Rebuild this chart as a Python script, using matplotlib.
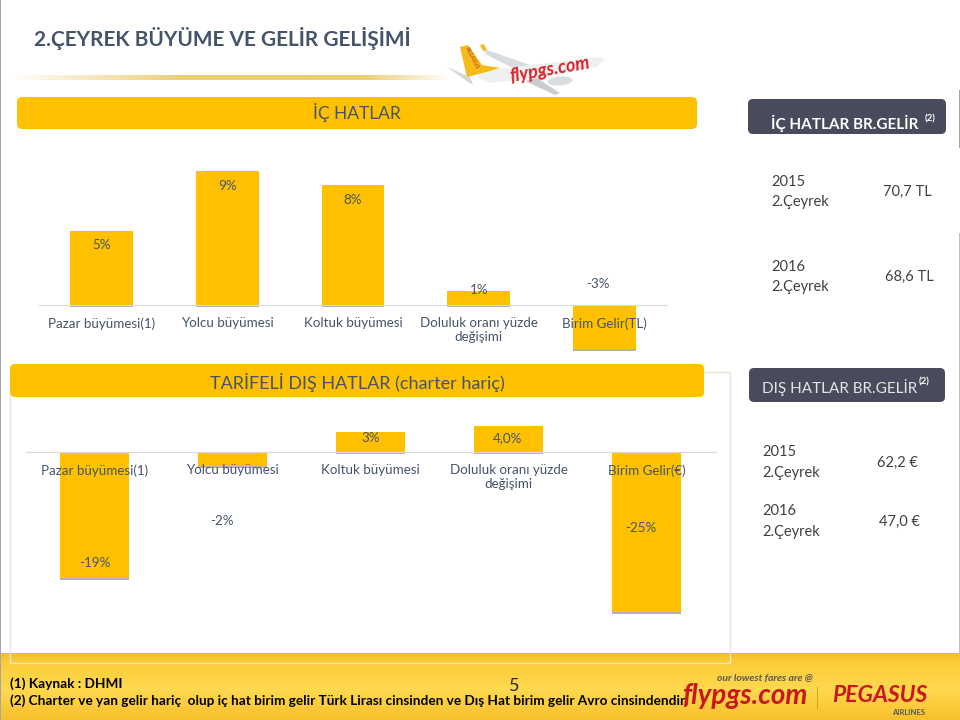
#!/usr/bin/env python3
# 2. ceyrek buyume ve gelir slide
import numpy as np
import matplotlib
matplotlib.use("Agg")
import matplotlib.pyplot as plt
import matplotlib.patheffects as pe
from matplotlib.patches import FancyBboxPatch, Polygon, Ellipse, Rectangle

plt.rcParams["font.family"] = ["Lato", "DejaVu Sans"]

W, H = 960, 720
YELLOW = "#FFC000"
TEXT = "#44546A"
DARK = "#404040"

###### DATA ######
dom_labels = ["Pazar büyümesi(1)", "Yolcu büyümesi", "Koltuk büyümesi",
              "Doluluk oranı yüzde\ndeğişimi", "Birim Gelir(TL)"]
dom_values = [5.0, 9.0, 8.1, 0.9, -3.0]
dom_text = ["5%", "9%", "8%", "1%", "-3%"]

intl_labels = ["Pazar büyümesi(1)", "Yolcu büyümesi", "Koltuk büyümesi",
               "Doluluk oranı yüzde\ndeğişimi", "Birim Gelir(€)"]
intl_values = [-19.4, -2.1, 3.1, 4.0, -24.6]
intl_text = ["-19%", "-2%", "3%", "4,0%", "-25%"]

dom_revenue = [("2015\n2.Çeyrek", "70,7 TL"), ("2016\n2.Çeyrek", "68,6 TL")]
intl_revenue = [("2015\n2.Çeyrek", "62,2 €"), ("2016\n2.Çeyrek", "47,0 €")]

# where the value labels sit, slide pixels
dom_text_pos = [(102, 245), (228, 186), (353, 200), (479, 290), (598, 284)]
intl_text_pos = [(95, 563), (222, 521), (371, 438), (508, 438), (641, 528)]

fig = plt.figure(figsize=(W / 100, H / 100), dpi=100, facecolor="white")

# whole slide in pixel coords for the decoration
bg = fig.add_axes([0, 0, 1, 1], zorder=0)
bg.set_xlim(0, W)
bg.set_ylim(H, 0)
bg.axis("off")


def px_axes(x0, x1, y0, y1, zorder=2):
    ax = fig.add_axes([x0 / W, 1 - y1 / H, (x1 - x0) / W, (y1 - y0) / H], zorder=zorder)
    ax.patch.set_alpha(0)
    return ax


def round_box(x0, y0, x1, y1, color, zorder=1):
    bg.add_patch(FancyBboxPatch((x0 + 5, y0 + 5), x1 - x0 - 10, y1 - y0 - 10,
                                boxstyle="round,pad=5,rounding_size=5",
                                fc=color, ec="none", zorder=zorder))


def bar_chart(labels, values, box, zero_y, px_per_unit, bar_width):
    x0, x1, y0, y1 = box
    ax = px_axes(x0, x1, y0, y1)
    shadow = [pe.withSimplePatchShadow(offset=(0, -1.5), shadow_rgbFace="#7F7F7F", alpha=0.6)]
    ax.bar(range(len(values)), values, width=bar_width, color=YELLOW,
           path_effects=shadow, zorder=1)
    ax.set_xlim(-0.5, len(values) - 0.5)
    ax.set_ylim((zero_y - y1) / px_per_unit, (zero_y - y0) / px_per_unit)
    ax.set_xticks(range(len(values)), labels)
    ax.set_yticks([])
    ax.set_axisbelow(False)
    ax.tick_params(axis="x", length=0, pad=9, labelsize=9.6, labelcolor=TEXT)
    # second line of the long label sits lower in the original
    for t in ax.get_xticklabels():
        t.set_linespacing(1.5)
    for s in ["top", "left", "right"]:
        ax.spines[s].set_visible(False)
    ax.spines["bottom"].set_position("zero")
    ax.spines["bottom"].set_color("#D9D9D9")
    ax.spines["bottom"].set_linewidth(0.8)
    return ax


# slide edges
bg.add_patch(Rectangle((0, 0), 1.2, H, fc="#A6A6A6", ec="none"))
bg.add_patch(Rectangle((958.5, 90), 1.5, 58, fc="#A6A6A6", ec="none"))
bg.add_patch(Rectangle((958.5, 233), 1.5, 420, fc="#BFBFBF", ec="none"))

# footer band
stops_y = np.array([0, 0.12, 0.55, 1.0])
stops_c = np.array([[0.96, 0.74, 0.13], [0.99, 0.80, 0.22], [1.0, 0.85, 0.31], [0.97, 0.75, 0.17]])
fy = np.linspace(0, 1, 64)
grad = np.stack([np.interp(fy, stops_y, stops_c[:, i]) for i in range(3)], axis=1)[:, None, :]
grad = np.repeat(grad, 8, axis=1)
bg.imshow(grad, extent=(0, W, 720, 653), aspect="auto", zorder=0.5)
bg.set_xlim(0, W)
bg.set_ylim(H, 0)

# rule under the title
fx = np.linspace(0, 1, 256)
rule = np.zeros((1, 256, 4))
rule[..., :3] = (0.93, 0.80, 0.45)
rule[..., 3] = np.clip(fx * 2.5, 0, 1) * np.clip((1 - fx) * 5, 0, 1)
bg.imshow(rule, extent=(8, 452, 80, 75), aspect="auto", zorder=0.6)
bg.set_xlim(0, W)
bg.set_ylim(H, 0)

# plane
bg.add_patch(Polygon([(447, 67), (470, 77), (473, 85), (468, 82)], fc="#D4D7D9", ec="none", zorder=1))
bg.add_patch(Polygon([(480, 45), (487, 50), (530, 65), (513, 68), (487, 55)],
                     fc="#D9DCDE", ec="none", zorder=1))
bg.add_patch(Polygon([(480, 45), (484, 44), (487, 50), (483, 51)], fc="#F5BB1A", ec="none", zorder=1.05))
bg.add_patch(Polygon([(477, 77), (490, 70), (600, 57), (605, 59), (597, 67), (540, 78), (490, 83)],
                     fc="#EEF0F1", ec="none", zorder=1))
bg.add_patch(Polygon([(537, 78), (560, 93), (555, 95), (525, 81)], fc="#C9CDD0", ec="none", zorder=1))
bg.add_patch(Ellipse((560, 81), 25, 9, angle=-5, fc="#DADDDF", ec="none", zorder=1.05))
bg.add_patch(Polygon([(460, 47), (468, 45), (482, 65), (500, 68), (483, 73), (467, 77)],
                     fc="#F5BB1A", ec="none", zorder=1.1))
bg.text(550, 70, "flypgs.com", color="#D8232A", fontsize=13, fontweight="bold", style="italic",
        rotation=10, ha="center", va="center", zorder=2)
bg.text(472, 58, "PEGASUS", color="#C8501E", fontsize=4, fontweight="bold", rotation=-62,
        ha="center", va="center", zorder=2)

# title and headers
bg.text(34, 39, "2.ÇEYREK BÜYÜME VE GELİR GELİŞİMİ", fontsize=15, fontweight="bold",
        color=TEXT, ha="left", va="center", zorder=2)
round_box(17, 97, 697, 129, YELLOW)
bg.text(357, 113, "İÇ HATLAR", fontsize=12.5, color=TEXT, ha="center", va="center", zorder=2)
bg.add_patch(Rectangle((10, 372), 720, 291, fc="none", ec="#E8E4D2", lw=1, zorder=0.8))
round_box(10, 364, 704, 397, YELLOW)
bg.text(357, 382, "TARİFELİ DIŞ HATLAR (charter hariç)", fontsize=13, color=TEXT,
        ha="center", va="center", zorder=2)

# charts
bar_chart(dom_labels, dom_values, (39, 667, 160, 360), 304.5, 14.8, 0.5)
bar_chart(intl_labels, intl_values, (25.5, 715.5, 415, 625), 452, 6.5, 0.5)

fg = px_axes(0, W, 0, H, zorder=3)
fg.set_xlim(0, W)
fg.set_ylim(H, 0)
fg.axis("off")
for s, (x, y) in zip(dom_text, dom_text_pos):
    fg.text(x, y, s, fontsize=9.6, color=TEXT, ha="center", va="center")
for s, (x, y) in zip(intl_text, intl_text_pos):
    fg.text(x, y, s, fontsize=9.6, color=TEXT, ha="center", va="center")

# revenue panel
round_box(748, 99, 946, 134, "#474B5B")
fg.text(771, 123, "İÇ HATLAR BR.GELİR", fontsize=11, fontweight="bold", color="white",
        ha="left", va="center")
fg.text(925, 119, "(2)", fontsize=7, fontweight="bold", color="white", ha="left", va="center")
round_box(749, 368, 945, 402, "#474B5B")
fg.text(762, 387, "DIŞ HATLAR BR.GELİR", fontsize=11, color="#E4E4E6", ha="left", va="center")
fg.text(919, 382, "(2)", fontsize=7, fontweight="bold", color="white", ha="left", va="center")

for (lab, val), y, vx in zip(dom_revenue, [191.5, 276.5], [883, 885]):
    fg.text(771, y + 0.5, lab, fontsize=10.5, color=DARK, ha="left", va="center", linespacing=1.6)
    fg.text(vx, y, val, fontsize=10.5, color=DARK, ha="left", va="center")
for (lab, val), y, vx in zip(intl_revenue, [462.5, 521.5], [877, 879]):
    fg.text(762, y, lab, fontsize=10.5, color=DARK, ha="left", va="center", linespacing=1.6)
    fg.text(vx, y, val, fontsize=10.5, color=DARK, ha="left", va="center")

# footer text
fg.text(10, 684, "(1) Kaynak : DHMI", fontsize=9.8, fontweight="bold", color="black", ha="left", va="center")
fg.text(10, 701, "(2) Charter ve yan gelir hariç  olup iç hat birim gelir Türk Lirası cinsinden ve Dış Hat birim gelir Avro cinsindendir.",
        fontsize=9.8, fontweight="bold", color="black", ha="left", va="center")
fg.text(514, 686, "5", fontsize=13, color="#262626", ha="center", va="center")

# logos
fg.text(765, 678, "our lowest fares are @", fontsize=7.5, fontweight="bold", style="italic",
        color="#595959", ha="center", va="center")
fg.text(746, 696, "flypgs.com", fontsize=20, fontweight="bold", style="italic",
        color="#C8171E", ha="center", va="center")
fg.plot([817, 817], [687, 708], color="#D9A520", lw=0.8)
fg.text(880, 695, "PEGASUS", fontsize=16.5, fontweight="bold", style="italic",
        color="#C8171E", ha="center", va="center")
fg.text(909, 712.5, "AIRLINES", fontsize=5.5, fontweight="bold", color="#595959", ha="center", va="center")

fig.savefig("out.png", dpi=100)
